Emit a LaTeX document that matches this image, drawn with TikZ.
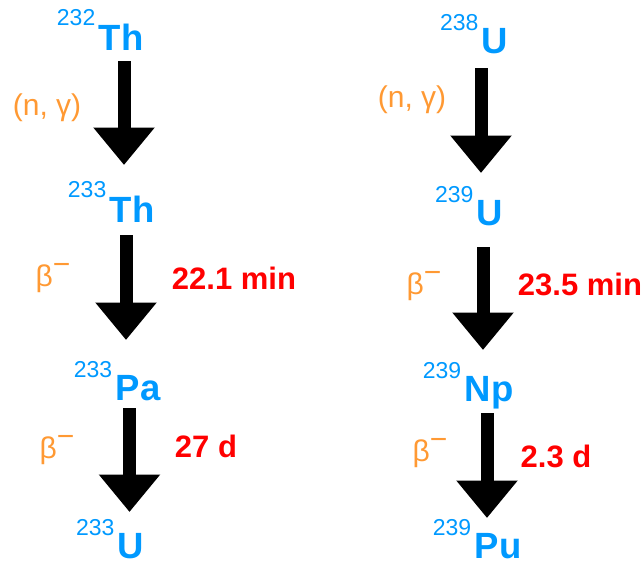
\documentclass[tikz,border=0pt]{standalone}
\usepackage{fontspec}
\setmainfont{Liberation Sans}
\usepackage{tikz}
\usetikzlibrary{arrows.meta}
\definecolor{nucblue}{RGB}{0,153,255}
\definecolor{rxnorange}{RGB}{255,153,51}
\definecolor{halfred}{RGB}{255,0,0}

\begin{document}
\begin{tikzpicture}[x=1pt,y=-1pt]
\tikzset{nuclide/.style = {text=nucblue, font=\fontsize{36.5}{40}\selectfont\bfseries, inner sep=0pt, anchor=base}}
\tikzset{mass/.style = {text=nucblue, font=\fontsize{23}{25}\selectfont, inner sep=0pt, xshift=-3pt, yshift=-3pt}}
\tikzset{reaction/.style = {text=rxnorange, font=\fontsize{30}{34}\selectfont}}
\tikzset{halflife/.style = {text=halfred, font=\fontsize{31}{34}\selectfont\bfseries}}
\tikzset{decay/.style = {-{Triangle[width=59pt,length=37.5pt]}, line width=13pt}}
\useasboundingbox (0,0) rectangle (643,565);

% thorium chain
\node[nuclide, label={[mass]north west:232}] (th232) at (121,50) {Th};
\node[nuclide, label={[mass]north west:233}] (th233) at (132,222) {Th};
\node[nuclide, label={[mass]north west:233}] (pa233) at (138,400) {Pa};
\node[nuclide, label={[mass]north west:233}] (u233) at (131,558) {U};

% uranium chain
\node[nuclide, label={[mass]north west:238}] (u238) at (495,53) {U};
\node[nuclide, label={[mass]north west:239}] (u239) at (490,225) {U};
\node[nuclide, label={[mass]north west:239}] (np239) at (489,401) {Np};
\node[nuclide, label={[mass]north west:239}] (pu239) at (498,558) {Pu};

% reactions
\node[reaction] (ng1) at (47,108) {(n, γ)};
\node[reaction] (b1) at (53,278) {β\raisebox{0.4em}{−}};
\node[reaction] (b2) at (57,450) {β\raisebox{0.4em}{−}};
\node[reaction] (ng2) at (412,100) {(n, γ)};
\node[reaction] (b3) at (424,286) {β\raisebox{0.4em}{−}};
\node[reaction] (b4) at (430,453) {β\raisebox{0.4em}{−}};

% half-lives
\node[halflife] (t1) at (234,278) {22.1 min};
\node[halflife] (t2) at (206,446) {27 d};
\node[halflife] (t3) at (580,284) {23.5 min};
\node[halflife] (t4) at (556,456) {2.3 d};

\draw [decay] ([xshift=3pt,yshift=-11pt]th232.base) -- ([xshift=-8pt,yshift=57pt]th233.base);
\draw [decay] ([xshift=-6pt,yshift=-13pt]th233.base) -- ([xshift=-12pt,yshift=60pt]pa233.base);
\draw [decay] ([xshift=-8.5pt,yshift=-8pt]pa233.base) -- ([xshift=-1.5pt,yshift=46pt]u233.base);

\draw [decay] ([xshift=-14pt,yshift=-15pt]u238.base) -- ([xshift=-9pt,yshift=52pt]u239.base);
\draw [decay] ([xshift=-7pt,yshift=-22pt]u239.base) -- ([xshift=-6pt,yshift=51pt]np239.base);
\draw [decay] ([xshift=-2pt,yshift=-12pt]np239.base) -- ([xshift=-11pt,yshift=40pt]pu239.base);

\end{tikzpicture}
\end{document}
